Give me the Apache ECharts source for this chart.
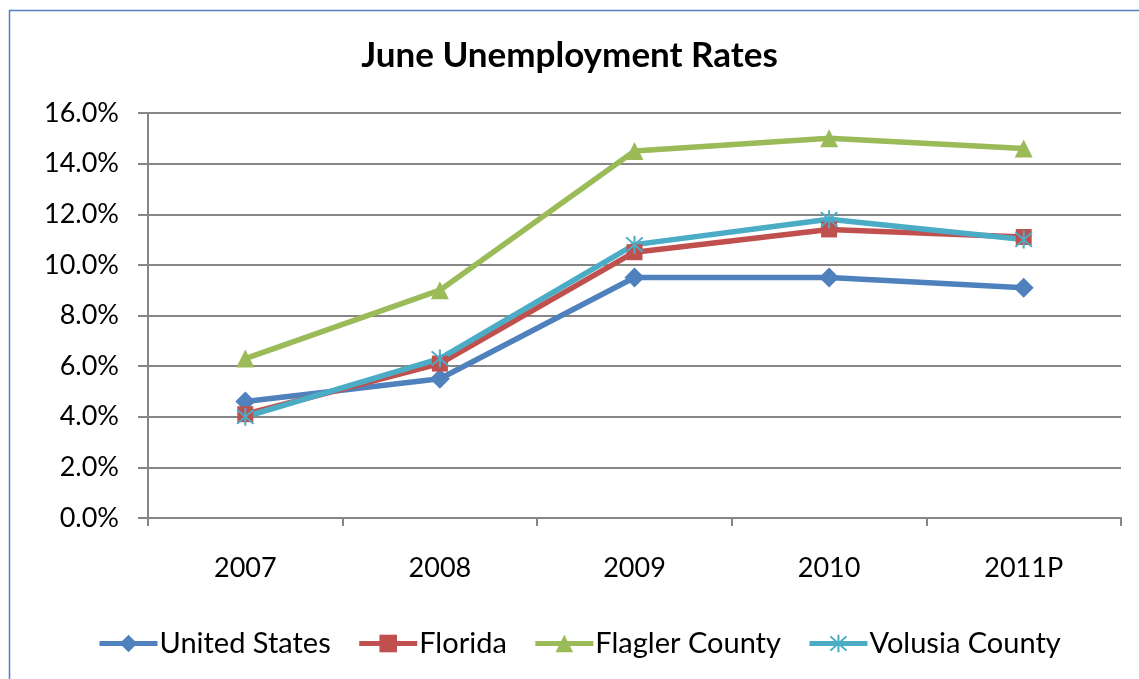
<!DOCTYPE html>
<html>
<head>
<meta charset="utf-8">
<script src="https://cdn.jsdelivr.net/npm/echarts@6/dist/echarts.min.js"></script>
<style>
  html, body { margin: 0; padding: 0; background: #fff; }
  #chart { width: 1139px; height: 679px; }
</style>
</head>
<body>
<div id="chart"></div>
<script>
// values (percent)
var years = ['2007', '2008', '2009', '2010', '2011P'];
var unitedStates = [4.6, 5.5, 9.5, 9.5, 9.1];
var florida = [4.1, 6.1, 10.5, 11.4, 11.1];
var flagler = [6.3, 9.0, 14.5, 15.0, 14.6];
var volusia = [4.0, 6.3, 10.8, 11.8, 11.0];
var yTicks = [0, 2, 4, 6, 8, 10, 12, 14, 16];

var font = 'Lato, "Open Sans", sans-serif';
var star = 'path://M9,0L11,0L11,20L9,20Z M2.7,1.3L18.7,17.3L17.3,18.7L1.3,2.7Z M17.3,1.3L18.7,2.7L2.7,18.7L1.3,17.3Z';

var chart = echarts.init(document.getElementById('chart'));

function makeSeries(name, data, color, symbol, size) {
  return {
    name: name,
    type: 'line',
    data: data,
    symbol: symbol,
    symbolSize: size,
    showAllSymbol: true,
    animation: false,
    lineStyle: { color: color, width: 5.5 },
    itemStyle: { color: color, borderWidth: 0 }
  };
}

chart.setOption({
  backgroundColor: '#fff',
  title: {
    text: 'June Unemployment Rates',
    left: 'center',
    top: 33,
    textStyle: { fontFamily: font, fontSize: 35, fontWeight: 'bold', color: '#000' }
  },
  graphic: [{
    type: 'rect',
    shape: { x: 9.5, y: 10.5, width: 1300, height: 900 },
    style: { fill: 'none', stroke: '#4F81BD', lineWidth: 1.5 },
    silent: true
  }],
  legend: {
    bottom: 16,
    left: 92,
    itemWidth: 58,
    itemHeight: 22,
    itemGap: 26,
    lineStyle: { width: 5 },
    textStyle: { fontFamily: font, fontSize: 29, color: '#000', padding: [0, 0, 0, -3] },
    data: ['United States', 'Florida', 'Flagler County', 'Volusia County']
  },
  grid: { left: 148, right: 18, top: 113, bottom: 161 },
  xAxis: {
    type: 'category',
    data: years,
    boundaryGap: true,
    axisLine: { lineStyle: { color: '#868686', width: 2 } },
    axisTick: { show: true, length: 8, lineStyle: { color: '#868686', width: 2 } },
    axisLabel: { fontFamily: font, fontSize: 27, color: '#000', margin: 37 }
  },
  yAxis: {
    type: 'value',
    min: yTicks[0],
    max: yTicks[yTicks.length - 1],
    interval: 2,
    axisLine: { show: true, lineStyle: { color: '#868686', width: 2 } },
    axisTick: { show: true, length: 10, lineStyle: { color: '#868686', width: 2 } },
    splitLine: { lineStyle: { color: '#868686', width: 2 } },
    axisLabel: {
      fontFamily: font, fontSize: 27, color: '#000', margin: 29,
      formatter: function (v) { return v.toFixed(1) + '%'; }
    }
  },
  series: [
    makeSeries('United States', unitedStates, '#4F81BD', 'diamond', 20),
    makeSeries('Florida', florida, '#C0504D', 'rect', 16),
    makeSeries('Flagler County', flagler, '#9BBB59', 'triangle', 18),
    makeSeries('Volusia County', volusia, '#4BACC6', star, 18)
  ]
});
</script>
</body>
</html>
